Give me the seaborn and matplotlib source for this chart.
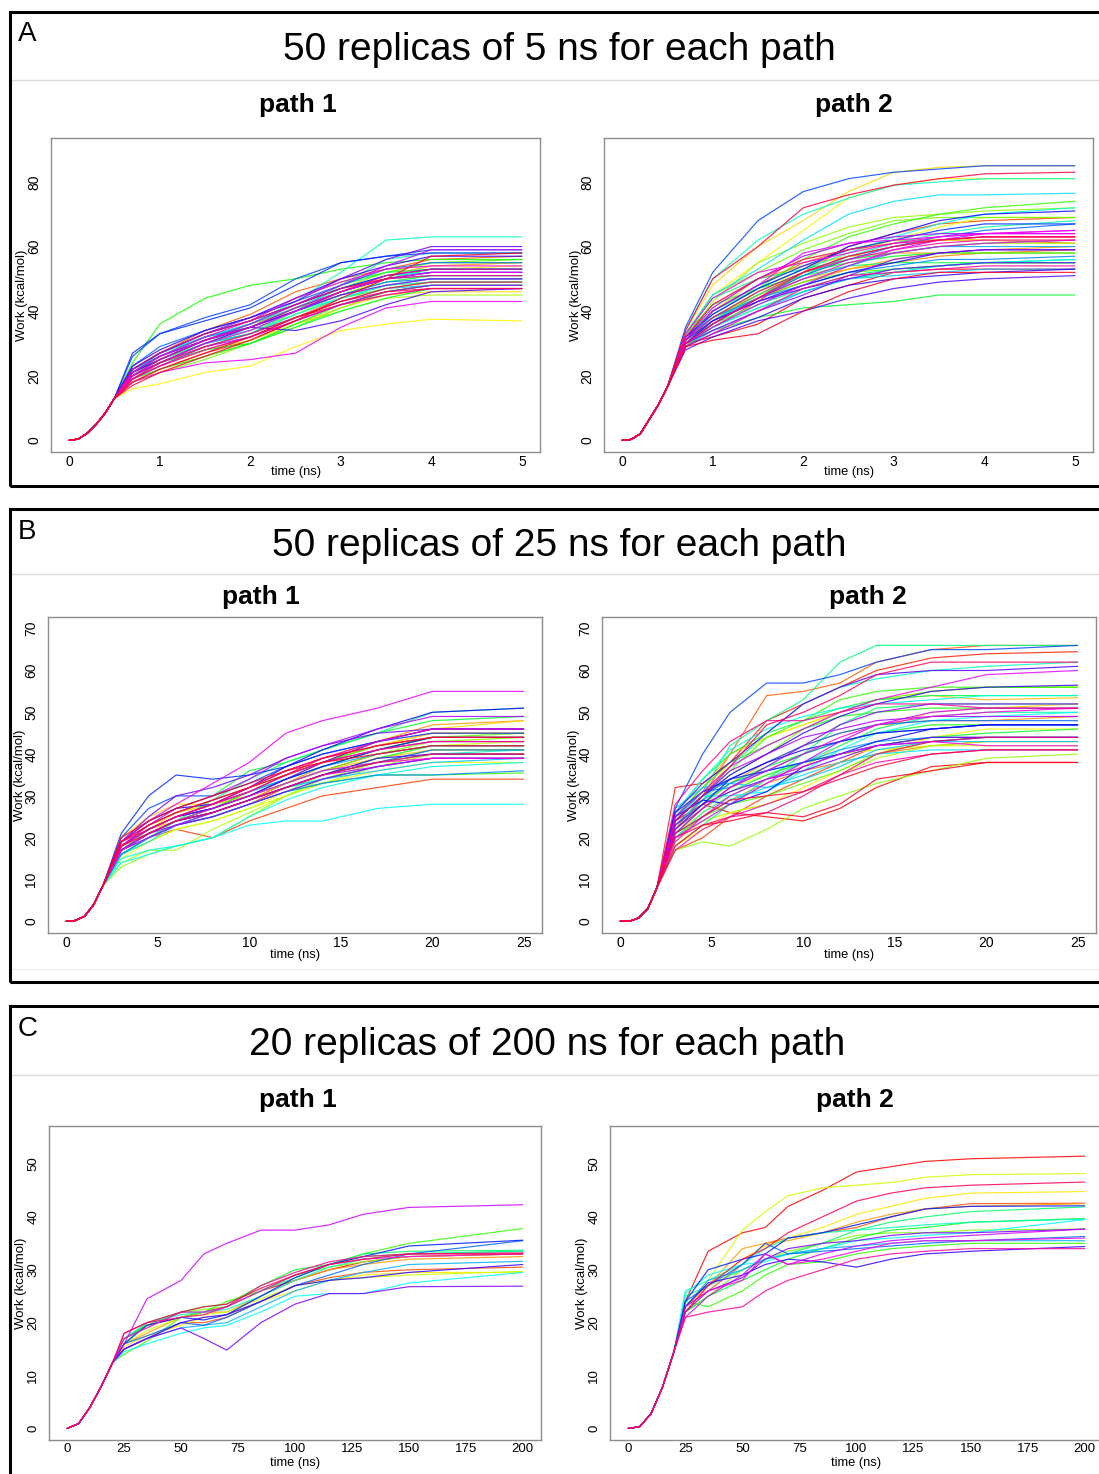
import matplotlib
matplotlib.use("Agg")
import matplotlib.pyplot as plt
from matplotlib.patches import Rectangle
from matplotlib.lines import Line2D
import numpy as np
import pandas as pd
import seaborn as sns

# ---------------- data ----------------
# Panel A : 50 replicas of 5 ns
A_RAMP_T = [0, 0.1, 0.2, 0.3, 0.4, 0.5]
A1_RAMP_W = [0, 0.4, 2.2, 5, 8.5, 13]
A2_RAMP_W = [0, 0.3, 2.0, 6.5, 11, 16.5]
A_T = [0.7, 1.0, 1.5, 2.0, 2.5, 3.0, 3.5, 4.0, 5.0]

A1_W = [
    [19, 23, 28, 32, 38, 42, 45, 47, 47],
    [18, 22, 27, 31, 37, 42, 46, 48, 48],
    [20, 25, 31, 36, 42, 47, 50, 52, 52],
    [21, 27, 34, 39, 46, 50, 53, 56, 57],
    [19, 24, 29, 33, 38, 44, 48, 50, 50],
    [20, 26, 32, 36, 40, 46, 51, 54, 55],
    [19, 24, 30, 35, 41, 45, 48, 49, 49],
    [18, 22, 26, 30, 36, 41, 45, 46, 46],
    [16, 17.5, 21, 23, 29, 34, 36, 37.5, 37],
    [20, 25, 30, 34, 39, 45, 50, 53, 54],
    [21, 26, 31, 35, 40, 45, 49, 51, 51],
    [19, 23, 28, 31, 36, 40, 44, 45, 45],
    [20, 25, 31, 36, 41, 47, 52, 55, 55],
    [18, 21, 25, 30, 35, 41, 46, 48, 48],
    [22, 27, 33, 37, 44, 49, 52, 55, 56],
    [21, 25, 30, 33, 39, 44, 47, 49, 49],
    [24, 36, 44, 48, 50, 53, 55, 56, 56],
    [20, 24, 28, 30, 36, 42, 46, 48, 48],
    [19, 22, 26, 30, 35, 40, 44, 47, 47],
    [21, 26, 32, 36, 42, 48, 52, 53, 53],
    [20, 24, 30, 34, 40, 45, 49, 51, 51],
    [22, 27, 32, 35, 41, 46, 50, 53, 53],
    [21, 25, 30, 33, 40, 48, 56, 58, 58],
    [22, 27, 32, 36, 43, 52, 62, 63, 63],
    [20, 25, 31, 34, 40, 44, 48, 50, 50],
    [19, 24, 29, 33, 39, 44, 48, 49, 49],
    [21, 27, 32, 36, 41, 47, 51, 52, 52],
    [20, 24, 30, 33, 38, 43, 47, 48, 48],
    [22, 26, 31, 35, 41, 46, 50, 51, 51],
    [21, 26, 32, 35, 40, 45, 49, 50, 50],
    [23, 29, 34, 38, 43, 48, 53, 55, 55],
    [26, 33, 38, 42, 50, 55, 57, 59, 59],
    [27, 33, 37, 41, 48, 55, 57, 58, 58],
    [22, 27, 33, 37, 42, 47, 51, 53, 53],
    [21, 25, 31, 35, 40, 46, 50, 52, 52],
    [23, 28, 34, 38, 44, 50, 54, 57, 57],
    [20, 24, 30, 35, 34, 37, 42, 46, 47],
    [22, 27, 33, 38, 43, 50, 56, 60, 60],
    [21, 26, 31, 35, 40, 45, 48, 50, 50],
    [19, 23, 29, 32, 37, 42, 46, 48, 48],
    [20, 25, 31, 36, 42, 48, 54, 59, 59],
    [18, 21, 24, 25, 27, 35, 41, 43, 43],
    [20, 24, 30, 34, 40, 46, 50, 52, 52],
    [21, 26, 32, 37, 44, 49, 53, 54, 54],
    [19, 23, 28, 32, 37, 42, 45, 47, 47],
    [20, 25, 31, 35, 41, 46, 51, 53, 53],
    [22, 27, 33, 37, 42, 47, 50, 51, 51],
    [19, 24, 29, 33, 38, 43, 46, 47, 47],
    [18, 22, 27, 32, 38, 43, 47, 49, 49],
    [17, 21, 26, 31, 37, 44, 50, 57, 58],
]

A2_W = [
    [30, 32, 36, 44, 48, 52, 53, 53, 53],
    [31, 38, 45, 52, 57, 60, 62, 63, 63],
    [30, 35, 43, 52, 60, 64, 67, 68, 69],
    [32, 40, 48, 55, 59, 62, 62, 62, 61],
    [29, 36, 44, 49, 53, 55, 57, 58, 59],
    [33, 42, 50, 54, 57, 58, 58, 59, 60],
    [31, 37, 45, 50, 53, 56, 58, 58, 58],
    [34, 48, 60, 68, 77, 83, 84.5, 85, 85],
    [33, 45, 55, 65, 75, 79, 81, 81, 81],
    [31, 38, 46, 53, 58, 62, 66, 69, 69],
    [32, 40, 50, 56, 59, 62, 62, 62, 62],
    [30, 37, 46, 52, 56, 58, 60, 61, 61],
    [31, 43, 55, 61, 66, 69, 70, 71, 72],
    [32, 45, 52, 59, 64, 68, 69, 69, 69],
    [30, 36, 44, 49, 52, 53, 54, 55, 55],
    [33, 42, 47, 56, 63, 67, 70, 72, 74],
    [29, 35, 41, 46, 50, 52, 54, 55, 55],
    [31, 38, 46, 52, 55, 57, 58, 58, 58],
    [30, 34, 38, 41, 42, 43, 45, 45, 45],
    [32, 40, 47, 51, 54, 55, 55, 55, 56],
    [31, 36, 42, 47, 51, 53, 54, 55, 55],
    [33, 44, 50, 53, 56, 58, 60, 61, 62],
    [30, 37, 45, 51, 57, 61, 64, 66, 68],
    [34, 50, 62, 70, 75, 79, 80, 81, 81],
    [31, 39, 47, 53, 58, 63, 67, 70, 72],
    [30, 35, 41, 46, 50, 52, 54, 55, 56],
    [33, 45, 53, 62, 70, 74, 76, 76, 76.5],
    [29, 34, 40, 46, 50, 51, 52, 53, 53],
    [31, 37, 44, 50, 54, 58, 60, 60, 60],
    [32, 38, 44, 48, 52, 54, 56, 56, 57],
    [30, 36, 44, 51, 56, 60, 63, 65, 67],
    [35, 52, 68, 77, 81, 83, 84, 85, 85],
    [31, 40, 48, 54, 59, 62, 65, 67, 67],
    [30, 37, 43, 48, 52, 55, 58, 59, 59],
    [32, 39, 47, 53, 60, 64, 68, 70, 71],
    [29, 33, 38, 44, 48, 50, 51, 52, 53],
    [28, 32, 37, 40, 44, 47, 49, 50, 51],
    [31, 37, 43, 47, 50, 53, 54, 55, 55],
    [30, 34, 40, 45, 51, 56, 58, 59, 59],
    [32, 41, 50, 57, 61, 63, 64, 64, 64],
    [30, 35, 42, 48, 54, 59, 62, 64, 65],
    [31, 40, 48, 58, 61, 62, 63, 64, 64],
    [33, 44, 52, 55, 58, 61, 63, 64, 65],
    [30, 36, 44, 50, 55, 58, 60, 61, 62],
    [31, 38, 46, 52, 56, 59, 61, 62, 62],
    [29, 33, 40, 47, 51, 52, 53, 54, 54],
    [32, 42, 50, 56, 59, 61, 62, 63, 63],
    [30, 36, 44, 52, 57, 60, 62, 63, 63],
    [34, 50, 60, 72, 76, 79, 81, 82.5, 83],
    [29, 31, 33, 40, 46, 50, 52, 52, 52],
]

# Panel B : 50 replicas of 25 ns
B_RAMP_T = [0, 0.5, 1, 1.5, 2]
B1_RAMP_W = [0, 0.2, 1.2, 4, 8.5]
B2_RAMP_W = [0, 0, 0.8, 3, 8]
B_T = [3, 4.5, 6, 8, 10, 12, 14, 17, 20, 25]

B1_W = [
    [18, 21, 24, 26, 29, 33, 36, 40, 42, 42],
    [17, 20, 23, 25, 28, 32, 35, 38, 40, 40],
    [16, 20, 22, 20, 24, 27, 30, 32, 34, 34],
    [18, 22, 25, 27, 31, 35, 38, 42, 45, 45],
    [17, 21, 24, 27, 30, 33, 37, 41, 44, 44],
    [19, 23, 26, 28, 32, 36, 39, 43, 47, 48],
    [18, 22, 24, 26, 29, 33, 36, 39, 41, 41],
    [20, 25, 28, 28, 30, 34, 38, 43, 46, 48],
    [17, 22, 26, 28, 32, 35, 38, 42, 45, 45],
    [15, 19, 22, 24, 27, 30, 33, 36, 38, 38],
    [16, 19, 22, 24, 27, 31, 35, 39, 42, 43],
    [14, 17, 17, 22, 26, 30, 33, 37, 40, 40],
    [13, 16, 18, 20, 25, 30, 34, 38, 41, 41],
    [17, 21, 24, 27, 30, 33, 36, 40, 43, 44],
    [18, 22, 25, 28, 31, 34, 37, 41, 44, 45],
    [16, 20, 23, 25, 28, 31, 33, 35, 35, 35.5],
    [17, 21, 24, 27, 31, 35, 38, 42, 44, 44],
    [18, 23, 26, 29, 32, 35, 38, 41, 44, 44],
    [19, 24, 27, 30, 36, 38, 41, 45, 48, 49],
    [17, 21, 24, 26, 29, 32, 35, 39, 42, 42],
    [16, 20, 24, 29, 34, 38, 41, 45, 50, 51],
    [17, 22, 25, 28, 31, 34, 37, 41, 43, 43],
    [16, 20, 23, 26, 29, 32, 34, 37, 39, 39],
    [17, 21, 24, 27, 30, 33, 36, 38, 40, 41],
    [15, 17, 18, 20, 25, 29, 32, 35, 37, 38],
    [14, 16, 18, 20, 23, 24, 24, 27, 28, 28],
    [16, 19, 23, 25, 28, 31, 34, 37, 39, 39],
    [17, 20, 23, 26, 29, 32, 34, 36, 38, 39],
    [18, 22, 25, 28, 31, 34, 37, 40, 42, 42],
    [16, 20, 23, 25, 28, 31, 33, 35, 35, 36],
    [17, 21, 24, 26, 29, 32, 35, 38, 41, 41],
    [20, 27, 30, 30, 33, 37, 40, 43, 46, 46],
    [21, 30, 35, 34, 35, 37, 40, 43, 45, 45],
    [18, 22, 25, 27, 30, 34, 37, 41, 44, 44],
    [19, 24, 27, 28, 32, 37, 41, 46, 50, 51],
    [17, 21, 24, 26, 29, 32, 35, 39, 40, 40],
    [18, 22, 25, 27, 30, 34, 38, 43, 46, 46],
    [19, 25, 30, 32, 35, 39, 42, 45, 46, 46],
    [17, 21, 23, 25, 28, 31, 34, 37, 39, 39],
    [18, 23, 27, 30, 34, 39, 42, 46, 49, 49],
    [17, 20, 23, 26, 29, 32, 35, 37, 39, 39],
    [19, 24, 28, 33, 38, 45, 48, 51, 55, 55],
    [18, 22, 25, 28, 31, 35, 38, 41, 43, 43],
    [17, 21, 24, 27, 30, 33, 36, 38, 39, 39],
    [19, 23, 26, 29, 32, 36, 39, 43, 46, 46],
    [18, 22, 25, 28, 31, 35, 38, 41, 43, 43],
    [19, 22, 25, 28, 32, 36, 39, 42, 44, 44],
    [18, 21, 24, 26, 29, 32, 35, 38, 40, 40],
    [19, 23, 26, 29, 32, 35, 39, 42, 44, 44],
    [20, 24, 27, 30, 33, 36, 38, 40, 42, 42],
]

B2_W = [
    [24, 28, 26, 25, 24, 27, 32, 37, 38, 38],
    [32, 33, 38, 48, 52, 56, 60, 63, 64, 64.5],
    [17, 20, 25, 30, 34, 38, 42, 44, 44, 44],
    [22, 30, 40, 54, 55, 57, 62, 65, 66, 66],
    [20, 25, 29, 33, 36, 38, 40, 42, 43, 43],
    [23, 28, 33, 38, 42, 45, 47, 48, 48, 49],
    [25, 32, 40, 44, 47, 50, 53, 54, 53, 53.5],
    [21, 26, 30, 34, 37, 42, 46, 50, 51, 52],
    [18, 22, 26, 28, 32, 36, 40, 44, 46, 46],
    [24, 30, 38, 44, 47, 50, 53, 55, 56, 56],
    [22, 27, 32, 35, 38, 40, 41, 42, 42, 42],
    [19, 24, 26, 28, 31, 35, 39, 42, 43, 43],
    [17, 19, 18, 22, 27, 30, 33, 36, 39, 40],
    [23, 29, 35, 40, 46, 50, 53, 55, 56, 56],
    [20, 25, 28, 30, 33, 36, 40, 43, 44, 44],
    [24, 30, 36, 44, 48, 53, 55, 56, 56, 56],
    [25, 32, 38, 42, 46, 49, 50, 51, 51, 51],
    [22, 28, 33, 37, 40, 43, 45, 47, 47, 47],
    [21, 27, 31, 35, 38, 40, 42, 44, 45, 46],
    [26, 34, 40, 45, 48, 51, 53, 54, 54, 54],
    [18, 23, 28, 34, 40, 47, 51, 52, 52, 52],
    [24, 31, 42, 48, 53, 62, 66, 66, 66, 66],
    [20, 26, 30, 34, 38, 42, 46, 49, 50, 50],
    [23, 29, 37, 45, 52, 56, 58, 60, 61, 62],
    [26, 34, 41, 46, 49, 51, 52, 53, 54, 54],
    [25, 30, 30, 31, 36, 41, 45, 48, 49, 50],
    [21, 25, 29, 32, 35, 38, 40, 41, 41, 41],
    [27, 32, 33, 32, 34, 37, 41, 43, 43, 43],
    [23, 29, 33, 36, 38, 41, 43, 44, 44, 44],
    [25, 31, 32, 36, 40, 43, 45, 46, 47, 47],
    [24, 30, 34, 38, 42, 45, 47, 48, 48, 48],
    [27, 40, 50, 57, 57, 59, 62, 65, 65, 66],
    [26, 31, 34, 36, 38, 40, 42, 43, 44, 44],
    [25, 29, 28, 31, 37, 40, 43, 46, 47, 47],
    [22, 28, 34, 38, 41, 43, 45, 46, 47, 47],
    [24, 30, 35, 40, 45, 49, 52, 55, 56, 56.5],
    [26, 33, 38, 45, 52, 56, 59, 60, 60, 61],
    [23, 28, 31, 34, 36, 39, 42, 44, 44, 44],
    [21, 27, 32, 37, 42, 47, 50, 52, 52, 52],
    [24, 30, 36, 40, 44, 46, 48, 49, 49, 49],
    [20, 24, 28, 33, 38, 43, 47, 50, 51, 51],
    [25, 31, 37, 42, 46, 50, 53, 56, 59, 60],
    [19, 25, 30, 34, 37, 40, 42, 43, 42, 42],
    [22, 27, 32, 36, 40, 44, 47, 49, 50, 51],
    [17, 22, 25, 28, 31, 35, 38, 40, 41, 41],
    [28, 36, 43, 48, 48, 50, 52, 52, 51, 51],
    [20, 23, 25, 26, 30, 35, 40, 43, 44, 44],
    [24, 30, 37, 47, 50, 54, 59, 62, 62, 62],
    [21, 25, 29, 30, 31, 34, 37, 40, 41, 41],
    [18, 23, 24, 26, 25, 28, 34, 36, 38, 38],
]

# Panel C : 20 replicas of 200 ns
C_RAMP_T = [0, 5, 10, 15, 20]
C1_RAMP_W = [0, 0.9, 4, 8, 12.5]
C2_RAMP_W = [0, 0.3, 2.8, 7.8, 14.5]
C_T = [25, 35, 50, 60, 70, 85, 100, 115, 130, 150, 200]

C1_W = [
    [17, 19.5, 21, 22, 23, 26, 28, 30, 31.5, 32.5, 33],
    [15, 17, 20, 20, 21, 24, 27, 28.5, 29.5, 30, 30.5],
    [16, 18, 21, 22, 22, 25, 28, 30, 31, 32, 32.5],
    [15.5, 17.5, 19.5, 21, 21.5, 24, 26, 28, 29, 29.5, 29.5],
    [16, 18.5, 21, 21.5, 22, 24.5, 27, 28, 28.5, 29, 29.7],
    [17, 19, 22, 22.5, 23, 26, 29, 30.5, 31.5, 32.5, 33],
    [14, 16.5, 21, 22, 24, 26, 29, 31, 33, 35, 37.8],
    [17, 19.5, 22, 23, 23.5, 27, 30, 31, 32.5, 33, 33.5],
    [16, 20, 22, 22, 23, 26, 28.5, 31, 33, 33.5, 33.7],
    [17, 20, 21.5, 22, 22.5, 25, 28, 30.5, 32, 33, 33.5],
    [14.5, 16, 18, 19, 19.5, 22, 25, 25.5, 25.5, 27.5, 29.5],
    [15, 17, 19, 19.5, 20, 23, 26, 28, 29.5, 31, 31.6],
    [16, 17.5, 20, 19.5, 21, 24, 27, 29, 31, 33, 35.5],
    [16, 19.5, 21, 20.5, 21.5, 25, 28.5, 31, 32.5, 34.5, 35.6],
    [15, 17, 20, 21, 21.5, 24, 27, 28, 28.5, 29.5, 31],
    [15, 17, 19, 17, 14.8, 20, 23.5, 25.5, 25.5, 26.8, 26.9],
    [16, 24.5, 28, 33, 35, 37.5, 37.5, 38.5, 40.5, 41.8, 42.3],
    [17, 19, 22, 22, 23, 26, 29, 31, 32, 32.5, 33],
    [18, 20, 21, 21.5, 23, 27, 29.5, 31.5, 32.5, 33, 33.2],
    [18, 20, 22, 23, 23.5, 26.5, 29, 31, 32, 33, 33],
]

C2_W = [
    [24, 33.5, 37, 38, 42, 45, 48.5, 49.5, 50.5, 51, 51.5],
    [23, 26, 31, 35, 36, 37, 38, 40, 41.5, 42.5, 42.6],
    [23, 27, 34, 35, 35.5, 37, 39, 40.5, 41.5, 42, 42.5],
    [22, 27, 32, 34.5, 36, 38, 40.5, 42, 43.5, 44.5, 44.8],
    [23, 28, 37.5, 41, 44, 45.5, 46, 46.5, 47.5, 48, 48.2],
    [22, 25, 30, 32, 33.5, 35, 36.5, 37, 37, 37.5, 37.7],
    [24, 23, 26, 29, 31, 31.5, 33, 34, 34.5, 35, 35],
    [22, 25, 28, 30, 32, 34, 36, 37.5, 38, 39, 39.7],
    [25, 27, 30, 32, 33, 35, 37.5, 39, 40, 41, 41.9],
    [26, 28, 31, 34, 36, 37, 37.5, 38, 38.5, 39, 39.6],
    [25.5, 29, 31, 31.5, 33, 34, 35.5, 36, 36.5, 37, 39.5],
    [23, 28, 30, 32, 33, 34, 34.5, 35, 35.5, 35.5, 35.5],
    [24, 27, 31, 35, 33, 33.5, 34, 34.5, 35, 35.5, 36.3],
    [24, 30, 32, 33, 36, 37, 38.5, 40, 41.5, 42, 42.1],
    [23, 27.5, 29, 31, 32, 31.5, 30.5, 32, 33, 33.5, 34.4],
    [22, 26, 28.5, 32, 34, 35, 35.5, 36.5, 37, 37, 37.7],
    [21, 25, 29, 33, 31, 33, 34.5, 35.5, 36, 36.5, 37.7],
    [23, 26, 28, 33, 31, 32, 33.5, 35, 35.5, 35.5, 36],
    [21, 22, 23, 26, 28, 30, 32, 33, 33.5, 34, 34],
    [22, 27, 32, 34, 37, 40, 43, 44.5, 45.5, 46, 46.6],
]

TITLES = ["50 replicas of 5 ns for each path",
          "50 replicas of 25 ns for each path",
          "20 replicas of 200 ns for each path"]
LETTERS = ["A", "B", "C"]
PATHS = ["path 1", "path 2"]
A_XTICKS = [0, 1, 2, 3, 4, 5]
A_YTICKS = [0, 20, 40, 60, 80]
B_XTICKS = [0, 5, 10, 15, 20, 25]
B_YTICKS = [0, 10, 20, 30, 40, 50, 60, 70]
C_XTICKS = [0, 25, 50, 75, 100, 125, 150, 175, 200]
C_YTICKS = [0, 10, 20, 30, 40, 50]

# ---------------- style ----------------
sns.set_style("white")
plt.rcParams["font.family"] = ["Liberation Sans", "DejaVu Sans"]
plt.rcParams["text.color"] = "black"
plt.rcParams["axes.labelcolor"] = "black"
plt.rcParams["xtick.color"] = "black"
plt.rcParams["ytick.color"] = "black"

W, H = 1099, 1474
fig = plt.figure(figsize=(W / 100, H / 100), dpi=100)


def fx(x):
    return x / W


def fy(y):
    return 1 - y / H


def build(ramp_t, ramp_w, t, rows):
    recs = []
    for i, r in enumerate(rows):
        for tt, ww in zip(list(ramp_t) + list(t), list(ramp_w) + list(r)):
            recs.append((f"r{i:02d}", tt, ww))
    return pd.DataFrame(recs, columns=["rep", "time", "work"])


panels = [
    dict(frame=(51, 138, 540, 452), xlim=(-0.2, 5.2), ylim=(-3.6, 93.6),
         xt=A_XTICKS, yt=A_YTICKS, df=build(A_RAMP_T, A1_RAMP_W, A_T, A1_W),
         n=len(A1_W), ylx=22, xly=472, xlc=296, ts=10),
    dict(frame=(604, 138, 1093, 452), xlim=(-0.2, 5.2), ylim=(-3.6, 93.6),
         xt=A_XTICKS, yt=A_YTICKS, df=build(A_RAMP_T, A2_RAMP_W, A_T, A2_W),
         n=len(A2_W), ylx=576, xly=472, xlc=849, ts=10),
    dict(frame=(48, 617, 542, 933), xlim=(-1, 26), ylim=(-2.8, 72.8),
         xt=B_XTICKS, yt=B_YTICKS, df=build(B_RAMP_T, B1_RAMP_W, B_T, B1_W),
         n=len(B1_W), ylx=20, xly=955, xlc=295, ts=10),
    dict(frame=(602, 617, 1096, 933), xlim=(-1, 26), ylim=(-2.8, 72.8),
         xt=B_XTICKS, yt=B_YTICKS, df=build(B_RAMP_T, B2_RAMP_W, B_T, B2_W),
         n=len(B2_W), ylx=574, xly=955, xlc=849, ts=10),
    dict(frame=(49, 1126, 541, 1440), xlim=(-8, 208), ylim=(-2.2, 57.2),
         xt=C_XTICKS, yt=C_YTICKS, df=build(C_RAMP_T, C1_RAMP_W, C_T, C1_W),
         n=len(C1_W), ylx=21, xly=1463, xlc=295, ts=9.5),
    dict(frame=(610, 1126, 1103, 1440), xlim=(-8, 208), ylim=(-2.2, 57.2),
         xt=C_XTICKS, yt=C_YTICKS, df=build(C_RAMP_T, C2_RAMP_W, C_T, C2_W),
         n=len(C2_W), ylx=582, xly=1463, xlc=856, ts=9.5),
]

frame_col = "#8c8c8c"
for p in panels:
    x0, y0, x1, y1 = p["frame"]
    ax = fig.add_axes([fx(x0), fy(y1), (x1 - x0) / W, (y1 - y0) / H])
    n = p["n"]
    pal = sns.hls_palette(n, h=0, l=0.5, s=1)
    reps = [f"r{i:02d}" for i in range(n)]
    sns.lineplot(data=p["df"], x="time", y="work", hue="rep", hue_order=reps,
                 palette=pal, legend=False, estimator=None, sort=False,
                 linewidth=0.85, alpha=0.85, ax=ax)
    ax.set_xlim(*p["xlim"])
    ax.set_ylim(*p["ylim"])
    ax.set_xticks(p["xt"])
    ax.set_yticks(p["yt"])
    ax.set_xlabel("")
    ax.set_ylabel("")
    for s in ax.spines.values():
        s.set_color(frame_col)
        s.set_linewidth(1.0)
        s.set_visible(True)
    ax.tick_params(axis="both", which="both", length=2, width=0.6,
                   color="#b0b0b0", labelsize=p["ts"], labelcolor="black")
    ax.tick_params(axis="x", pad=0.5)
    ax.tick_params(axis="y", pad=5)
    for lab in ax.get_yticklabels():
        lab.set_rotation(90)
        lab.set_va("center")
    ax.set_facecolor("white")
    fig.text(fx(p["xlc"]), fy(p["xly"]), "time (ns)", ha="center", va="center",
             fontsize=9.3)
    fig.text(fx(p["ylx"]), fy((y0 + y1) / 2), "Work (kcal/mol)", rotation=90,
             ha="center", va="center", fontsize=9.5)

# boxes, titles, separators
boxes = [(10, 12, 486), (10, 509, 982), (10, 1006, 1478)]
title_pos = [(559, 50), (559, 546), (547, 1045)]
letter_pos = [(27, 34), (27, 532), (28, 1029)]
sep_y = [80, 574, 1075]
path_pos = [((298, 105), (854, 105)), ((261, 597), (868, 597)), ((298, 1100), (855, 1100))]

for k in range(3):
    bx, by0, by1 = boxes[k]
    fig.patches.append(Rectangle((fx(bx), fy(by1)), (1105 - bx) / W, (by1 - by0) / H,
                                 transform=fig.transFigure, fill=False,
                                 edgecolor="black", linewidth=2.2, zorder=10))
    fig.lines.append(Line2D([fx(bx), fx(1105)], [fy(sep_y[k]), fy(sep_y[k])],
                            transform=fig.transFigure, color="#dadada", linewidth=1.0))
    fig.text(fx(title_pos[k][0]), fy(title_pos[k][1]), TITLES[k], ha="center",
             va="center", fontsize=28)
    fig.text(fx(letter_pos[k][0]), fy(letter_pos[k][1]), LETTERS[k], ha="center",
             va="center", fontsize=20)
    for j in range(2):
        px, py = path_pos[k][j]
        fig.text(fx(px), fy(py), PATHS[j], ha="center", va="center",
                 fontsize=19, fontweight="bold")

fig.lines.append(Line2D([fx(10), fx(1105)], [fy(969), fy(969)],
                        transform=fig.transFigure, color="#ececec", linewidth=1.0))

fig.savefig("out.png", dpi=100)
